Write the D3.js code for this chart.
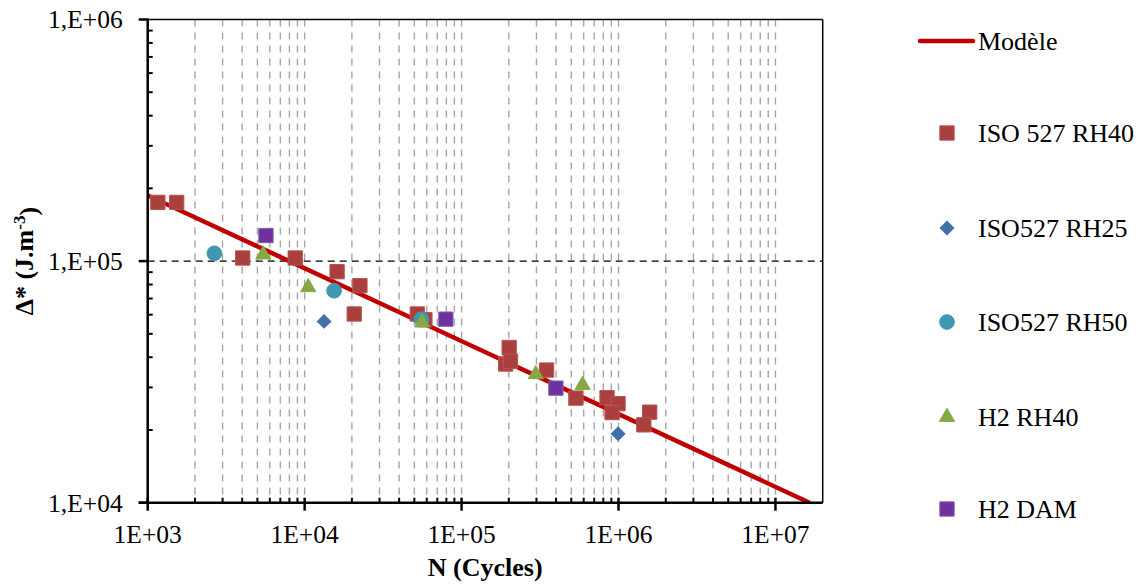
<!DOCTYPE html>
<html><head><meta charset="utf-8">
<script src="https://cdn.jsdelivr.net/npm/d3@7"></script>
<style>
html,body{margin:0;padding:0;background:#fff;}
text{font-family:"Liberation Serif","Times New Roman",serif;fill:#000;}
</style>
</head><body>
<svg id="chart" width="1142" height="585"></svg>
<script>
// ---- data ----
const xTickValues = [1e3, 1e4, 1e5, 1e6, 1e7];
const xTickLabels = ["1E+03", "1E+04", "1E+05", "1E+06", "1E+07"];
const yTickValues = [1e4, 1e5, 1e6];
const yTickLabels = ["1,E+04", "1,E+05", "1,E+06"];

const modelN = [1000, 16500000];
const modelY = [187000, 10000];

const iso40N = [1160, 1530, 4030, 8710, 16100, 22500, 20700, 52200, 58400, 201000, 191000, 205000, 348000, 535000, 845000, 993000, 910000, 1580000, 1450000];
const iso40Y = [175000, 175000, 103000, 103000, 90400, 79100, 60400, 60400, 57200, 43900, 37500, 38500, 35400, 27100, 27200, 25700, 23600, 23700, 21000];

const iso25N = [13300, 994000];
const iso25Y = [56300, 19300];

const iso50N = [2660, 15400, 55600];
const iso50Y = [107700, 75400, 57500];

const h2rh40N = [5450, 10540, 56100, 297000, 590000];
const h2rh40Y = [106400, 77900, 55700, 34000, 30700];

const h2damN = [5670, 79400, 399000];
const h2damY = [127600, 57500, 29800];

const seriesNames = ["Modèle", "ISO 527 RH40", "ISO527 RH25", "ISO527 RH50", "H2 RH40", "H2 DAM"];

// ---- layout ----
const svg = d3.select("#chart");
const L = 147.7, R = 822.7, T = 19.5, B = 502.7;
const x = d3.scaleLog().domain([1e3, 2e7]).range([L, R]);
const y = d3.scaleLog().domain([1e4, 1e6]).range([B, T]);

svg.append("defs").append("clipPath").attr("id", "clip")
  .append("rect").attr("x", L).attr("y", T).attr("width", R - L).attr("height", B - T);

// vertical grid (minor + major)
const xGridVals = [];
for (let d = 1e3; d < 2e7; d *= 10) for (let k = 1; k <= 9; k++) { const v = d * k; if (v > 1e3 && v < 2e7) xGridVals.push(v); }
svg.append("g").selectAll("line").data(xGridVals).join("line")
  .attr("x1", d => x(d)).attr("x2", d => x(d)).attr("y1", T).attr("y2", B)
  .attr("stroke", "#A6A6A6").attr("stroke-width", 1.4).attr("stroke-dasharray", "7,6");

// horizontal major grid at 1E+05
svg.append("g").selectAll("line").data(yTickValues.filter(v => v > 1e4 && v < 1e6)).join("line")
  .attr("x1", L).attr("x2", R).attr("y1", d => y(d)).attr("y2", d => y(d))
  .attr("stroke", "#000").attr("stroke-width", 1.4).attr("stroke-dasharray", "7,5");

// frame top/right
svg.append("line").attr("x1", L).attr("x2", R).attr("y1", T).attr("y2", T).attr("stroke", "#000").attr("stroke-width", 1.5);
svg.append("line").attr("x1", R).attr("x2", R).attr("y1", T).attr("y2", B).attr("stroke", "#000").attr("stroke-width", 1.5);

// model line
svg.append("path").attr("clip-path", "url(#clip)")
  .datum(modelN.map((n, i) => [n, modelY[i]]))
  .attr("d", d3.line().x(d => x(d[0])).y(d => y(d[1])))
  .attr("stroke", "#C00000").attr("stroke-width", 4.5).attr("fill", "none");

// axes
const yMinor = [];
for (let d = 1e4; d < 1e6; d *= 10) for (let k = 2; k <= 9; k++) yMinor.push(d * k);
const xMinor = xGridVals.filter(v => !xTickValues.includes(v));

const gy = svg.append("g");
gy.append("line").attr("x1", L).attr("x2", L).attr("y1", T - 1).attr("y2", B + 1).attr("stroke", "#000").attr("stroke-width", 2.5);
gy.selectAll(".mn").data(yMinor).join("line").attr("class", "mn")
  .attr("x1", L).attr("x2", L + 5).attr("y1", d => y(d)).attr("y2", d => y(d)).attr("stroke", "#000").attr("stroke-width", 2);
gy.selectAll(".mj").data(yTickValues).join("line").attr("class", "mj")
  .attr("x1", L - 9).attr("x2", L).attr("y1", d => y(d)).attr("y2", d => y(d)).attr("stroke", "#000").attr("stroke-width", 2.5);
gy.selectAll("text").data(yTickValues).join("text")
  .attr("x", L - 25).attr("y", d => y(d)).attr("dy", "0.35em").attr("text-anchor", "end")
  .style("font-size", "25.5px").text((d, i) => yTickLabels[i]);

const gx = svg.append("g");
gx.append("line").attr("x1", L - 9).attr("x2", R).attr("y1", B).attr("y2", B).attr("stroke", "#000").attr("stroke-width", 2.5);
gx.selectAll(".mn").data(xMinor).join("line").attr("class", "mn")
  .attr("x1", d => x(d)).attr("x2", d => x(d)).attr("y1", B - 5).attr("y2", B).attr("stroke", "#000").attr("stroke-width", 2);
gx.selectAll(".mj").data(xTickValues).join("line").attr("class", "mj")
  .attr("x1", d => x(d)).attr("x2", d => x(d)).attr("y1", B - 5).attr("y2", B + 8).attr("stroke", "#000").attr("stroke-width", 2.5);
gx.selectAll("text").data(xTickValues).join("text")
  .attr("x", d => x(d)).attr("y", 543).attr("text-anchor", "middle")
  .style("font-size", "25.5px").text((d, i) => xTickLabels[i]);

// axis titles
svg.append("text").attr("x", (L + R) / 2).attr("y", 576).attr("text-anchor", "middle")
  .style("font-size", "26px").style("font-weight", "bold").text("N (Cycles)");
const yt = svg.append("text").attr("transform", `translate(33,${(T + B) / 2}) rotate(-90)`)
  .attr("text-anchor", "middle").style("font-size", "26px").style("font-weight", "bold");
yt.append("tspan").text("Δ* (J.m");
yt.append("tspan").attr("dy", "-0.45em").style("font-size", "17px").text("-3");
yt.append("tspan").attr("dy", "0.45em").text(")");

// markers
const styles = [
  { n: iso40N, v: iso40Y, type: d3.symbolSquare, size: 205, fill: "#A9403E", stroke: "#B85452", rot: 0 },
  { n: iso25N, v: iso25Y, type: d3.symbolSquare, size: 92, fill: "#4370A8", stroke: "#4370A8", rot: 45 },
  { n: iso50N, v: iso50Y, type: d3.symbolCircle, size: 170, fill: "#3E98B1", stroke: "#3E98B1", rot: 0 },
  { n: h2rh40N, v: h2rh40Y, type: d3.symbolTriangle, size: 100, fill: "#86A845", stroke: "#86A845", rot: 0 },
  { n: h2damN, v: h2damY, type: d3.symbolSquare, size: 205, fill: "#7030A0", stroke: "#8064A2", rot: 0 }
];
styles.forEach(s => {
  svg.append("g").selectAll("path").data(s.n.map((n, i) => [n, s.v[i]])).join("path")
    .attr("d", d3.symbol().type(s.type).size(s.size))
    .attr("transform", d => `translate(${x(d[0])},${y(d[1])}) rotate(${s.rot})`)
    .attr("fill", s.fill).attr("stroke", s.stroke).attr("stroke-width", 1);
});

// legend
const lg = svg.append("g");
lg.append("line").attr("x1", 920).attr("x2", 973).attr("y1", 41).attr("y2", 41)
  .attr("stroke", "#C00000").attr("stroke-width", 4.5).attr("stroke-linecap", "round");
lg.append("text").attr("x", 978).attr("y", 41).attr("dy", "0.35em").style("font-size", "26px").text(seriesNames[0]);
const legY = [133, 228, 322, 417, 509];
styles.forEach((s, i) => {
  lg.append("path").attr("d", d3.symbol().type(s.type).size(s.size))
    .attr("transform", `translate(947,${legY[i]}) rotate(${s.rot})`)
    .attr("fill", s.fill).attr("stroke", s.stroke).attr("stroke-width", 1);
  lg.append("text").attr("x", 978).attr("y", legY[i]).attr("dy", "0.35em").style("font-size", "26px").text(seriesNames[i + 1]);
});
</script>
</body></html>
